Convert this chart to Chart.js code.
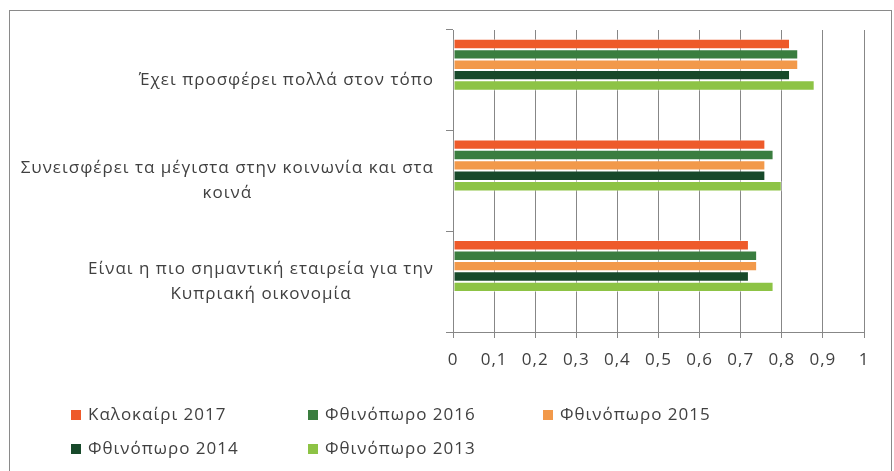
<!DOCTYPE html>
<html>
<head>
<meta charset="utf-8">
<script src="https://cdn.jsdelivr.net/npm/chart.js@4/dist/chart.umd.min.js"></script>
<style>
  html, body { margin: 0; padding: 0; background: #fff; }
  #wrap { position: relative; width: 894px; height: 471px; }
  #frame { position: absolute; left: 9px; top: 10px; width: 883px; height: 470px;
           border: 1px solid #8a8a8a; box-sizing: border-box; pointer-events: none; }
  canvas { position: absolute; left: 0; top: 0; }
</style>
</head>
<body>
<div id="wrap">
  <canvas id="c" width="894" height="471"></canvas>
  <div id="frame"></div>
</div>
<script>
// ---- data ----
const categories = [
  ["Έχει προσφέρει πολλά στον τόπο"],
  ["Συνεισφέρει τα μέγιστα στην κοινωνία και στα", "κοινά"],
  ["Είναι η πιο σημαντική εταιρεία για την", "Κυπριακή οικονομία"]
];
const seriesNames = ["Καλοκαίρι 2017", "Φθινόπωρο 2016", "Φθινόπωρο 2015", "Φθινόπωρο 2014", "Φθινόπωρο 2013"];
const summer2017 = [0.82, 0.76, 0.72];
const autumn2016 = [0.84, 0.78, 0.74];
const autumn2015 = [0.84, 0.76, 0.74];
const autumn2014 = [0.82, 0.76, 0.72];
const autumn2013 = [0.88, 0.80, 0.78];
const seriesColors = ["#EE5A2A", "#3A7D3F", "#F2994A", "#17492A", "#8DC345"];
const xTicks = [0, 0.1, 0.2, 0.3, 0.4, 0.5, 0.6, 0.7, 0.8, 0.9, 1];
const emptySlots = 3; // empty series slots below the real bars in each group

const FONT = "'Open Sans', 'Noto Sans', sans-serif";
const FSIZE = 17;
const SPACING = "1px";
const TEXT = "#404040";
const GRID = "#878787";

const values = [summer2017, autumn2016, autumn2015, autumn2014, autumn2013];
const datasets = values.map((v, i) => ({
  label: seriesNames[i],
  data: v,
  backgroundColor: seriesColors[i],
  borderColor: "rgba(255,255,255,0.45)",
  borderWidth: 1,
  borderSkipped: false
}));
for (let k = 0; k < emptySlots; k++) {
  datasets.push({ label: "", data: categories.map(() => 0), backgroundColor: "rgba(0,0,0,0)", borderWidth: 0 });
}

const spacingPlugin = {
  id: "spacing",
  beforeDraw(chart) { chart.ctx.letterSpacing = SPACING; }
};

const catLabelPlugin = {
  id: "catLabels",
  afterDraw(chart) {
    const ctx = chart.ctx;
    const y = chart.scales.y;
    const rightX = chart.chartArea.left - 19;
    const lh = 25;
    ctx.save();
    ctx.letterSpacing = SPACING;
    ctx.font = FSIZE + "px " + FONT;
    ctx.fillStyle = TEXT;
    ctx.textAlign = "center";
    ctx.textBaseline = "middle";
    categories.forEach((lines, i) => {
      const cy = y.getPixelForValue(i);
      const maxW = Math.max(...lines.map(l => ctx.measureText(l).width));
      const cx = rightX - maxW / 2;
      lines.forEach((l, j) => {
        ctx.fillText(l, cx, cy + (j - (lines.length - 1) / 2) * lh);
      });
    });
    ctx.restore();
  }
};

const legendPlugin = {
  id: "gridLegend",
  afterDraw(chart) {
    const ctx = chart.ctx;
    const colX = [71, 308, 543];
    const rowY = [415, 449];
    ctx.save();
    ctx.letterSpacing = SPACING;
    ctx.font = FSIZE + "px " + FONT;
    ctx.textBaseline = "middle";
    ctx.textAlign = "left";
    seriesNames.forEach((name, i) => {
      const x = colX[i % 3], yy = rowY[Math.floor(i / 3)];
      ctx.fillStyle = seriesColors[i];
      ctx.fillRect(x, yy - 5, 10, 10);
      ctx.fillStyle = TEXT;
      ctx.fillText(name, x + 17, yy);
    });
    ctx.restore();
  }
};

new Chart(document.getElementById("c"), {
  type: "bar",
  data: { labels: categories.map(c => c.join(" ")), datasets },
  options: {
    indexAxis: "y",
    responsive: false,
    animation: false,
    events: [],
    categoryPercentage: 0.826,
    barPercentage: 1.0,
    layout: { padding: { left: 0, top: 30, right: 30, bottom: 99 } },
    plugins: { legend: { display: false }, tooltip: { enabled: false } },
    scales: {
      x: {
        min: 0, max: 1,
        afterBuildTicks: s => { s.ticks = xTicks.map(v => ({ value: v })); },
        afterFit: s => { s.height = 40; },
        ticks: {
          color: TEXT,
          font: { family: FONT, size: FSIZE },
          padding: 12,
          maxRotation: 0,
          callback: v => String(Math.round(v * 10) / 10).replace(".", ",")
        },
        grid: { color: GRID, lineWidth: 1, tickLength: 6, drawTicks: true },
        border: { color: GRID, width: 1 }
      },
      y: {
        afterFit: s => { s.width = 453; },
        ticks: { display: false },
        grid: { offset: true, drawOnChartArea: false, color: GRID, tickLength: 7, drawTicks: true },
        border: { color: GRID, width: 1 }
      }
    }
  },
  plugins: [spacingPlugin, catLabelPlugin, legendPlugin]
});
</script>
</body>
</html>
